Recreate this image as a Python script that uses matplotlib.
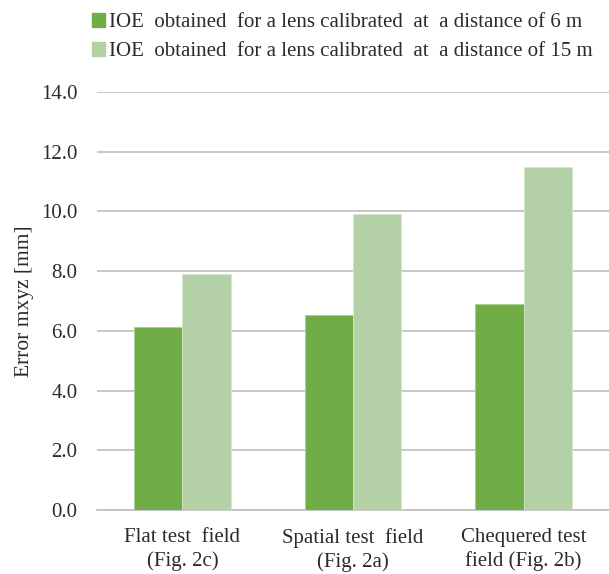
import numpy as np
import matplotlib as mpl
import matplotlib.pyplot as plt
from matplotlib.patches import Patch

categories = ['Flat test  field\n(Fig. 2c)', 'Spatial test  field\n(Fig. 2a)', 'Chequered test\nfield (Fig. 2b)']
ioe_6m = [6.14, 6.53, 6.89]
ioe_15m = [7.90, 9.91, 11.49]
series_labels = ['IOE  obtained  for a lens calibrated  at  a distance of 6 m',
                 'IOE  obtained  for a lens calibrated  at  a distance of 15 m']
yticks = [0, 2, 4, 6, 8, 10, 12, 14]

mpl.rcParams['font.family'] = ['Liberation Serif', 'DejaVu Serif']
mpl.rcParams['font.size'] = 15

c_dark = '#70AD47'
c_light = '#B4D0A6'
txt = '#2b2b2b'

fig = plt.figure(figsize=(6.09, 5.74), dpi=100)
ax = fig.add_axes([97/609., 1-510/574., 1-97/609., (510-92)/574.])

x = np.arange(len(categories))
w = 0.284
ax.bar(x - w/2, ioe_6m, w, color=c_dark, edgecolor='#A8CF8F', linewidth=0.6, zorder=3)
ax.bar(x + w/2, ioe_15m, w, color=c_light, edgecolor='#D5E6CC', linewidth=0.6, zorder=3)

ax.set_xlim(-0.5, 2.5)
ax.set_ylim(0, 14)
ax.set_yticks(yticks)
ax.set_yticklabels(['%.1f' % v for v in yticks], color=txt)
ax.set_xticks(x)
ax.set_xticklabels(categories, color=txt, linespacing=1.28)
ax.tick_params(axis='y', length=0, pad=14)
ax.tick_params(axis='x', length=0, pad=13)
ax.grid(axis='y', color='#BFBFBF', linewidth=1.2, zorder=0)
for s in ['top', 'right', 'left']:
    ax.spines[s].set_visible(False)
ax.spines['bottom'].set_color('#BFBFBF')
ax.spines['bottom'].set_linewidth(1.2)
ax.set_ylabel('Error mxyz [mm]', color=txt, fontsize=15.5, labelpad=5)

handles = [Patch(color=c_dark), Patch(color=c_light)]
fig.legend(handles, series_labels, loc='upper left', bbox_to_anchor=(73/609., 1.01),
           frameon=False, handlelength=0.65, handleheight=0.65, handletextpad=0.2,
           labelspacing=0.45, labelcolor=txt)

fig.savefig('out.png', dpi=100)
